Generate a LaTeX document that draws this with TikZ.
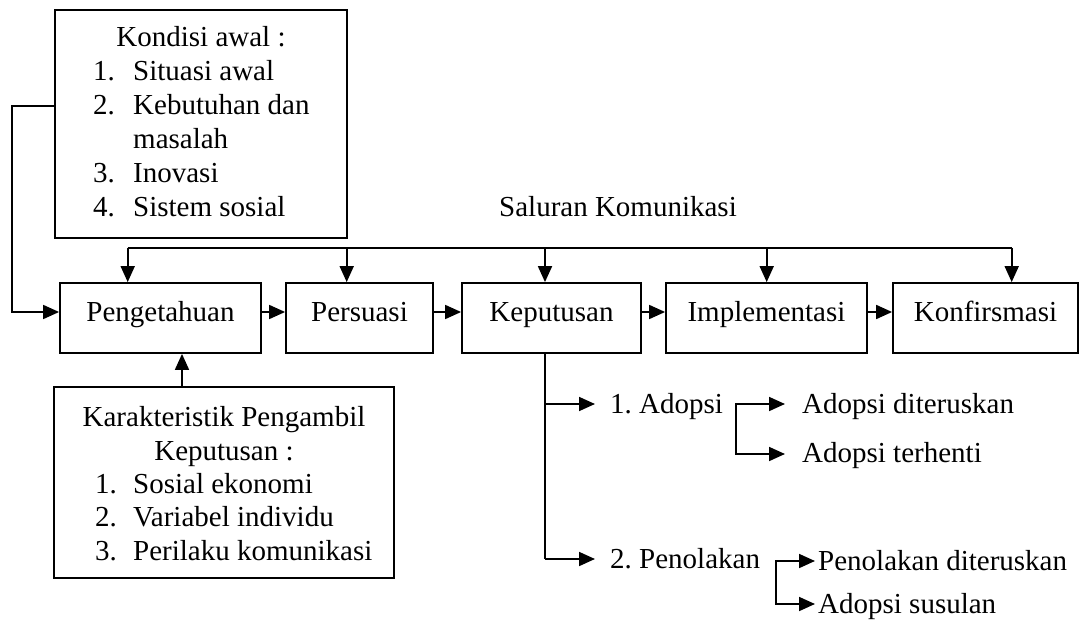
\documentclass[tikz,border=0pt]{standalone}
\usepackage{fontspec}
\setmainfont{Liberation Serif}
\usetikzlibrary{arrows.meta}
\frenchspacing
\begin{document}
\begin{tikzpicture}[x=1pt,y=-1pt,
  every node/.style={font=\fontsize{29}{34}\selectfont, inner sep=0pt},
  stage/.style={draw, line width=1.8pt, minimum height=70pt, text height=20pt, text depth=13pt},
  frame/.style={draw, line width=1.8pt},
  txt/.style={anchor=base west},
  ctr/.style={anchor=base},
  link/.style={line width=1.8pt},
  arr/.style={line width=1.8pt, -{Triangle[length=16pt,width=14pt]}},
]
\useasboundingbox (0,0) rectangle (1079,620);

% stages of the decision process
\node[stage, minimum width=201pt] (peng) at (160.5,318) {Pengetahuan};
\node[stage, minimum width=147pt] (pers) at (359.5,318) {Persuasi};
\node[stage, minimum width=179pt] (kep)  at (551.5,318) {Keputusan};
\node[stage, minimum width=201pt] (imp)  at (766.5,318) {Implementasi};
\node[stage, minimum width=185pt] (konf) at (985.5,318) {Konfirsmasi};

% prior conditions
\node[frame, minimum width=292pt, minimum height=228pt] (kond) at (201,124) {};
\node[ctr] (k0) at (201,47) {Kondisi awal :};
\node[txt] (k1n) at (93,81)  {1.}; \node[txt] (k1) at (133,81)  {Situasi awal};
\node[txt] (k2n) at (93,115) {2.}; \node[txt] (k2) at (133,115) {Kebutuhan dan};
\node[txt] (k2b) at (133,149) {masalah};
\node[txt] (k3n) at (93,183) {3.}; \node[txt] (k3) at (133,183) {Inovasi};
\node[txt] (k4n) at (93,217) {4.}; \node[txt] (k4) at (133,217) {Sistem sosial};

% characteristics of the decision maker
\node[frame, minimum width=340pt, minimum height=191pt] (kar) at (224,482.5) {};
\node[ctr] (c0)  at (224,426.7) {Karakteristik Pengambil};
\node[ctr] (c0b) at (224,460)   {Keputusan :};
\node[txt] (c1n) at (95,493.3) {1.}; \node[txt] (c1) at (133,493.3) {Sosial ekonomi};
\node[txt] (c2n) at (95,526.7) {2.}; \node[txt] (c2) at (133,526.7) {Variabel individu};
\node[txt] (c3n) at (95,560)   {3.}; \node[txt] (c3) at (133,560)   {Perilaku komunikasi};

% communication channels
\node[txt] (sal) at (499,216.7) {Saluran Komunikasi};
\coordinate (b1) at (127.7,248);
\coordinate (b2) at (346.7,248);
\coordinate (b3) at (545,248);
\coordinate (b4) at (766.7,248);
\coordinate (b5) at (1011.7,248);
\draw[link] (b1) -- (b5);
\draw[arr] (b1) -- (b1 |- peng.north);
\draw[arr] (b2) -- (b2 |- pers.north);
\draw[arr] (b3) -- (b3 |- kep.north);
\draw[arr] (b4) -- (b4 |- imp.north);
\draw[arr] (b5) -- (b5 |- konf.north);

% flow between stages
\coordinate (fk) at (12,106);
\draw[arr] (kond.west |- fk) -- (fk) |- ([yshift=6pt]peng.west);
\draw[arr] ([yshift=6pt]peng.east) -- ([yshift=6pt]pers.west);
\draw[arr] ([yshift=6pt]pers.east) -- ([yshift=6pt]kep.west);
\draw[arr] ([yshift=6pt]kep.east)  -- ([yshift=6pt]imp.west);
\draw[arr] ([yshift=6pt]imp.east)  -- ([yshift=6pt]konf.west);
\draw[arr] (kar.north -| 182,0) -- (peng.south -| 182,0);

% outcomes of the decision
\node[txt] (ad)  at (610,413)   {1. Adopsi};
\node[txt] (pn)  at (610,568.5) {2. Penolakan};
\node[txt] (ad1) at (802,413)   {Adopsi diteruskan};
\node[txt] (ad2) at (802,462.5) {Adopsi terhenti};
\node[txt] (pn1) at (818,570.5) {Penolakan diteruskan};
\node[txt] (pn2) at (818,613.5) {Adopsi susulan};

\coordinate (j1) at (545,404);
\coordinate (j2) at (545,559);
\coordinate (a1) at (595,404);
\coordinate (a2) at (595,559);
\draw[link] (kep.south -| j1) -- (j2);
\draw[arr] (j1) -- (a1);
\draw[arr] (j2) -- (a2);

\coordinate (s1) at (736,404);
\coordinate (s2) at (736,454);
\coordinate (t1) at (785,404);
\coordinate (t2) at (785,454);
\draw[arr] (s2) -- (s1) -- (t1);
\draw[arr] (s1) -- (s2) -- (t2);

\coordinate (q1) at (776,561);
\coordinate (q2) at (776,604);
\coordinate (r1) at (815,561);
\coordinate (r2) at (815,604);
\draw[arr] (q2) -- (q1) -- (r1);
\draw[arr] (q1) -- (q2) -- (r2);
\end{tikzpicture}
\end{document}
